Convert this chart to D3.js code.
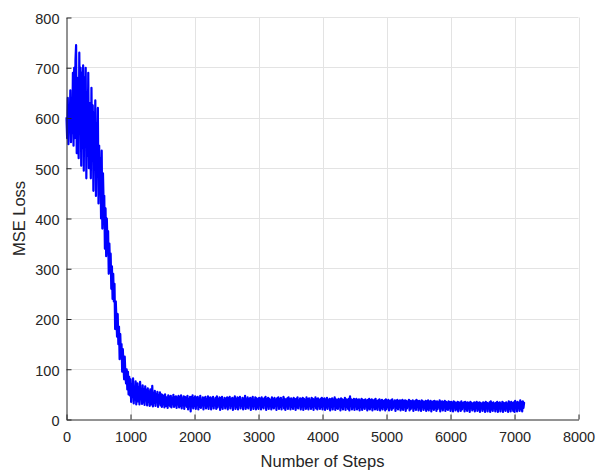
<!DOCTYPE html>
<html>
<head>
<meta charset="utf-8">
<script src="https://cdn.jsdelivr.net/npm/d3@7"></script>
<style>
  html, body { margin: 0; padding: 0; background: #fff; }
  svg { display: block; }
  text { font-family: "Liberation Sans", Arial, Helvetica, sans-serif; fill: #262626; }
</style>
</head>
<body>
<svg id="chart" width="596" height="471"></svg>
<script>
// ---- data ----
const stepInterval = 10;            // one recorded loss value every 10 steps
const lossValues = [
  // 0 - 240
  600, 560, 640, 548, 610, 585, 655, 552, 620, 570, 690, 545, 700, 560, 715, 745, 530, 680, 575, 520, 730, 595, 700, 505, 690,
  // 250 - 490
  540, 705, 495, 680, 560, 700, 480, 650, 525, 690, 500, 630, 585, 480, 660, 520, 625, 455, 610, 540, 635, 445, 590, 500, 620,
  // 500 - 740
  430, 545, 470, 520, 400, 535, 380, 490, 430, 445, 340, 420, 325, 400, 350, 375, 290, 350, 300, 330, 260, 305, 240, 290, 235,
  // 750 - 990
  270, 180, 235, 200, 165, 210, 150, 185, 120, 170, 130, 150, 95, 140, 110, 80, 125, 90, 72, 100, 60, 95, 50, 85, 48,
  // 1000 - 1240
  80, 35, 70, 45, 82, 32, 62, 40, 76, 30, 58, 72, 36, 64, 30, 75, 42, 55, 31, 68, 34, 60, 29, 66, 38,
  // 1250 - 1490
  58, 28, 62, 35, 55, 27, 60, 40, 30, 67, 26, 52, 33, 57, 27, 50, 36, 55, 25, 48, 32, 54, 28, 50, 25,
  // 1500 - 1740
  49, 30, 46, 24, 50, 27, 44, 35, 23, 48, 29, 45, 26, 47, 24, 42, 31, 49, 25, 44, 28, 46, 23, 43, 30,
  // 1750 - 1990
  47, 24, 44, 27, 48, 22, 41, 33, 46, 21, 45, 28, 43, 25, 47, 20, 40, 31, 45, 16, 44, 26, 48, 22, 42,
  // 2000 - 2240
  27, 46, 21, 43, 30, 45, 20, 41, 25, 47, 23, 39, 28, 44, 20, 42, 32, 45, 22, 40, 26, 46, 21, 43, 29,
  // 2250 - 2490
  44, 20, 41, 27, 45, 22, 39, 31, 43, 21, 46, 24, 40, 28, 44, 19, 42, 25, 45, 21, 38, 30, 43, 22, 41,
  // 2500 - 2740
  26, 44, 20, 42, 31, 45, 22, 39, 27, 43, 19, 41, 29, 46, 21, 40, 25, 44, 20, 42, 30, 45, 22, 38, 27,
  // 2750 - 2990
  43, 20, 41, 28, 47, 21, 39, 25, 44, 22, 40, 30, 43, 19, 41, 26, 45, 21, 38, 29, 44, 20, 42, 24, 40,
  // 3000 - 3240
  21, 43, 28, 41, 20, 44, 25, 39, 22, 42, 30, 45, 19, 40, 26, 43, 21, 41, 29, 38, 20, 44, 24, 40, 22,
  // 3250 - 3490
  43, 27, 39, 19, 42, 30, 44, 21, 40, 25, 43, 20, 38, 28, 45, 22, 41, 19, 39, 26, 42, 21, 44, 29, 40,
  // 3500 - 3740
  20, 42, 25, 39, 21, 43, 28, 40, 19, 41, 24, 44, 22, 38, 30, 42, 20, 40, 26, 43, 19, 41, 27, 39, 21,
  // 3750 - 3990
  44, 24, 40, 20, 42, 29, 38, 21, 43, 25, 41, 19, 39, 27, 44, 22, 40, 20, 42, 28, 38, 21, 41, 25, 43,
  // 4000 - 4240
  20, 40, 27, 42, 19, 39, 24, 43, 21, 38, 29, 41, 18, 40, 25, 42, 20, 39, 28, 44, 19, 40, 23, 38, 21,
  // 4250 - 4490
  41, 26, 39, 18, 42, 24, 40, 20, 38, 29, 43, 19, 40, 25, 39, 21, 41, 18, 46, 27, 40, 20, 38, 24, 41,
  // 4500 - 4740
  19, 39, 26, 41, 20, 38, 23, 40, 18, 37, 28, 41, 19, 39, 24, 38, 21, 40, 27, 37, 18, 39, 22, 41, 20,
  // 4750 - 4990
  38, 25, 40, 18, 37, 27, 39, 20, 41, 22, 36, 19, 38, 26, 40, 18, 37, 23, 39, 20, 36, 27, 38, 18, 40,
  // 5000 - 5240
  21, 37, 25, 39, 18, 36, 24, 38, 19, 40, 22, 35, 27, 38, 17, 37, 23, 39, 20, 36, 26, 38, 18, 37, 22,
  // 5250 - 5490
  39, 19, 36, 25, 38, 17, 37, 22, 35, 26, 39, 18, 37, 21, 36, 24, 38, 17, 35, 23, 37, 19, 39, 25, 36,
  // 5500 - 5740
  18, 37, 22, 35, 17, 38, 25, 36, 19, 34, 23, 37, 17, 36, 21, 38, 18, 35, 26, 37, 16, 34, 22, 36, 19,
  // 5750 - 5990
  37, 23, 35, 17, 36, 21, 34, 25, 38, 16, 35, 22, 36, 18, 34, 24, 37, 17, 35, 21, 33, 19, 36, 23, 34,
  // 6000 - 6240
  17, 35, 22, 33, 16, 36, 24, 34, 18, 32, 21, 35, 16, 34, 23, 33, 17, 36, 20, 32, 25, 34, 16, 35, 21,
  // 6250 - 6490
  33, 17, 34, 22, 32, 15, 35, 24, 33, 18, 31, 21, 34, 16, 33, 23, 35, 17, 32, 20, 34, 15, 33, 24, 31,
  // 6500 - 6740
  17, 34, 21, 32, 15, 35, 23, 33, 16, 31, 22, 34, 15, 36, 20, 32, 17, 34, 24, 31, 16, 33, 21, 35, 15,
  // 6750 - 6990
  32, 22, 34, 16, 31, 24, 35, 15, 33, 20, 32, 17, 34, 23, 31, 15, 36, 21, 33, 16, 35, 22, 32, 17, 34,
  // 7000 - 7150
  15, 37, 22, 33, 16, 35, 24, 32, 17, 38, 21, 34, 16, 36, 23, 33
];
const xTicks = [0, 1000, 2000, 3000, 4000, 5000, 6000, 7000, 8000];
const yTicks = [0, 100, 200, 300, 400, 500, 600, 700, 800];
const xDomain = [0, 8000];
const yDomain = [0, 800];
const xLabel = "Number of Steps";
const yLabel = "MSE Loss";

// ---- layout ----
const svg = d3.select("#chart");
const plot = { left: 66.5, right: 578.5, top: 17.5, bottom: 419.5 };

svg.append("rect").attr("width", 596).attr("height", 471).attr("fill", "#fff");

const x = d3.scaleLinear().domain(xDomain).range([plot.left, plot.right]);
const y = d3.scaleLinear().domain(yDomain).range([plot.bottom, plot.top]);

const data = lossValues.map((v, i) => ({ step: i * stepInterval, loss: v }));

// grid
const grid = svg.append("g").attr("stroke", "#e3e3e3").attr("stroke-width", 1);
grid.selectAll("line.gx").data(xTicks.filter(d => d !== 0)).join("line")
  .attr("x1", d => Math.round(x(d)) + 0.5).attr("x2", d => Math.round(x(d)) + 0.5)
  .attr("y1", plot.top).attr("y2", plot.bottom);
grid.selectAll("line.gy").data(yTicks.filter(d => d !== 0)).join("line")
  .attr("x1", plot.left).attr("x2", plot.right)
  .attr("y1", d => Math.round(y(d) - 0.5) + 0.5).attr("y2", d => Math.round(y(d) - 0.5) + 0.5);

// data line
const line = d3.line().x(d => x(d.step)).y(d => y(d.loss));
svg.append("path")
  .datum(data)
  .attr("d", line)
  .attr("fill", "none")
  .attr("stroke", "#0000ff")
  .attr("stroke-width", 2.2)
  .attr("stroke-linejoin", "round")
  .attr("stroke-linecap", "round");

// axes (ticks pointing inward, MATLAB style)
const xAxis = d3.axisBottom(x).tickValues(xTicks).tickSizeInner(-5).tickSizeOuter(0)
  .tickFormat(d3.format("d"));
const gx = svg.append("g").attr("transform", `translate(0,${plot.bottom})`).call(xAxis);
gx.select(".domain").attr("stroke", "#262626").attr("stroke-width", 1);
gx.selectAll(".tick line").attr("stroke", "#262626");
gx.selectAll(".tick text").attr("font-size", "14.5px").attr("fill", "#262626")
  .style("font-family", "'Liberation Sans', Arial, sans-serif").attr("dy", "0.71em").attr("y", 12);

const yAxis = d3.axisLeft(y).tickValues(yTicks).tickSizeInner(-5).tickSizeOuter(0)
  .tickFormat(d3.format("d"));
const gy = svg.append("g").attr("transform", `translate(${plot.left},0)`).call(yAxis);
gy.select(".domain").attr("stroke", "#262626").attr("stroke-width", 1);
gy.selectAll(".tick line").attr("stroke", "#262626");
gy.selectAll(".tick text").attr("font-size", "14.5px").attr("fill", "#262626")
  .style("font-family", "'Liberation Sans', Arial, sans-serif").attr("x", -7).attr("dy", "0.4em");

// axis labels
svg.append("text")
  .attr("x", (plot.left + plot.right) / 2)
  .attr("y", 467)
  .attr("text-anchor", "middle")
  .attr("font-size", "16.5px")
  .text(xLabel);

svg.append("text")
  .attr("transform", `translate(25,${(plot.top + plot.bottom) / 2}) rotate(-90)`)
  .attr("text-anchor", "middle")
  .attr("font-size", "16.5px")
  .text(yLabel);
</script>
</body>
</html>
